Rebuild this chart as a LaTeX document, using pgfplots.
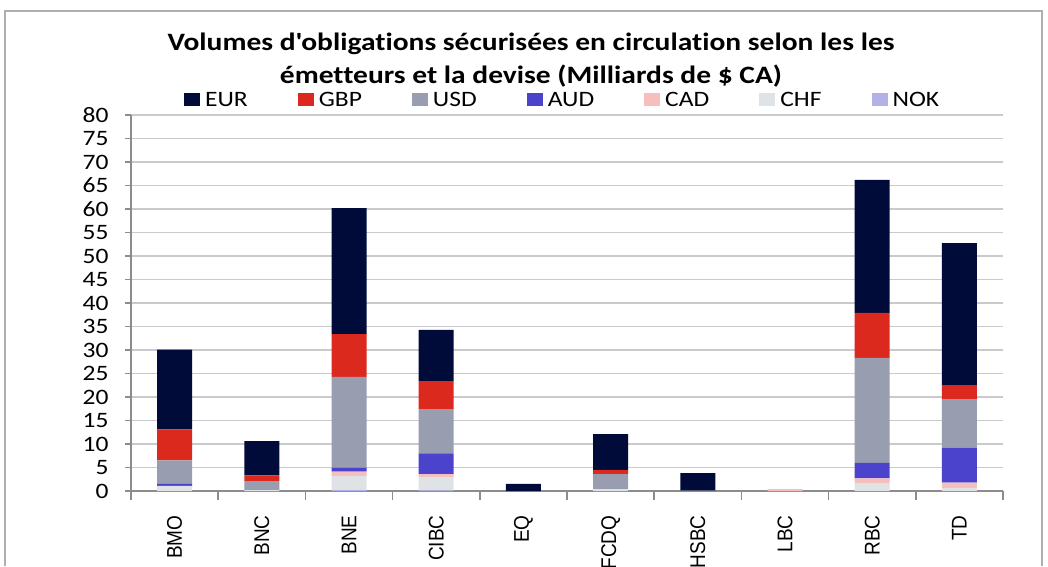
\documentclass[border=0pt]{standalone}
\usepackage{pgfplots}
\pgfplotsset{compat=1.18}
\usepackage{pgfplotstable}
\usepackage{fontspec}
\setmainfont{Carlito}[FakeStretch=1.16, Ligatures=NoCommon]
\newfontfamily\titlefont{Carlito}[FakeStretch=1.18, Ligatures=NoCommon]
\newfontfamily\xlabfont{Liberation Sans}
\definecolor{cEUR}{HTML}{000B3A}
\definecolor{cGBP}{HTML}{DC291E}
\definecolor{cUSD}{HTML}{989DAF}
\definecolor{cAUD}{HTML}{4B43CC}
\definecolor{cCAD}{HTML}{F5BFBD}
\definecolor{cCHF}{HTML}{E0E3E6}
\definecolor{cNOK}{HTML}{B4B0E8}
\definecolor{gridc}{HTML}{C9C9CE}
\definecolor{axc}{HTML}{8C8C8C}
\pgfplotstableread{
x NOK CHF CAD AUD USD GBP EUR
0 0    1.1  0    0.4  5.0  6.6  17.0
1 0    0.2  0    0    1.9  1.2  7.3
2 0.2  3.0  0.9  0.9  19.3 9.1  26.8
3 0.15 2.85 0.6  4.4  9.4  6.0  10.9
4 0    0    0    0    0    0    1.5
5 0    0.35 0    0    3.25 0.9  7.6
6 0    0    0    0    0.1  0    3.7
7 0    0    0.4  0    0    0    0
8 0    1.55 1.15 3.3  22.3 9.6  28.3
9 0    0.6  1.2  7.45 10.3 3.0  30.2
}\datatable
\begin{document}
\begin{tikzpicture}[x=1pt,y=1pt]
\useasboundingbox (0,0) rectangle (1048,566);
\draw[color=axc!70,line width=1.2pt] (5,0) -- (5,555) -- (1042,555) -- (1042,0);
\node[font=\titlefont\bfseries\fontsize{25}{33}\selectfont,align=center,anchor=center] at (531,506)
  {Volumes d'obligations sécurisées en circulation selon les les\\émetteurs et la devise (Milliards de \$ CA)};
\begin{axis}[
  at={(131pt,75pt)}, anchor=south west,
  scale only axis, width=872pt, height=376pt,
  ybar stacked, bar width=35pt,
  xmin=-0.5, xmax=9.5, ymin=0, ymax=80,
  ytick={0,5,...,80},
  xtick={0,...,9},
  xticklabels={BMO,BNC,BNE,CIBC,EQ,FCDQ,HSBC,LBC,RBC,TD},
  minor xtick={-0.5,0.5,...,9.5},
  major x tick style={draw=none},
  minor tick length=9pt,
  major tick length=6pt,
  tick align=outside,
  tick style={color=axc, line width=1.5pt},
  xticklabel style={rotate=90, yscale=1.12, anchor=east, xshift=-15pt, font=\xlabfont\fontsize{19}{19}\selectfont},
  yticklabel style={font=\fontsize{22}{22}\selectfont, xshift=-13pt},
  /pgf/number format/assume math mode=true,
  ymajorgrids, grid style={color=gridc, line width=1.5pt},
  axis line style={color=axc, line width=1.8pt},
  axis x line*=bottom, axis y line*=left,
  separate axis lines,
  y axis line style={-}, x axis line style={-},
  reverse legend,
  legend columns=7,
  legend style={draw=none, fill=none, at={(0.495,1.04)}, anchor=center,
    font=\fontsize{22}{22}\selectfont,
    /tikz/every even column/.append style={column sep=48pt},
    /tikz/every odd column/.append style={column sep=3pt},
    inner sep=0pt},
  legend image code/.code={\fill[#1] (0pt,-6.5pt) rectangle (16pt,6.5pt);},
  every axis plot/.append style={draw=none},
]
\addplot[fill=cNOK] table[x=x,y=NOK]{\datatable};
\addplot[fill=cCHF] table[x=x,y=CHF]{\datatable};
\addplot[fill=cCAD] table[x=x,y=CAD]{\datatable};
\addplot[fill=cAUD] table[x=x,y=AUD]{\datatable};
\addplot[fill=cUSD] table[x=x,y=USD]{\datatable};
\addplot[fill=cGBP] table[x=x,y=GBP]{\datatable};
\addplot[fill=cEUR] table[x=x,y=EUR]{\datatable};
\legend{NOK,CHF,CAD,AUD,USD,GBP,EUR}
\end{axis}
\end{tikzpicture}
\end{document}
